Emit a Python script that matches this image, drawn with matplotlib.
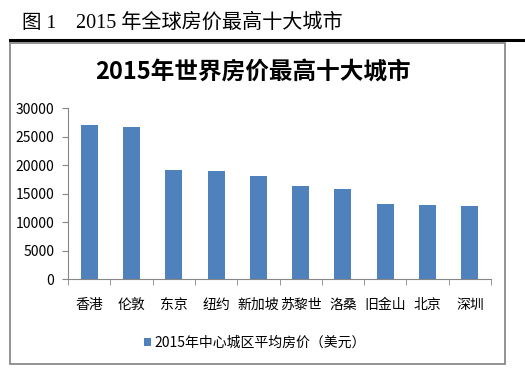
import matplotlib
matplotlib.use("Agg")
import matplotlib.pyplot as plt
from matplotlib.patches import Rectangle
from matplotlib.lines import Line2D
import numpy as np

plt.rcParams['font.family'] = ['Noto Sans CJK SC', 'DejaVu Sans']

cities = ["香港", "伦敦", "东京", "纽约", "新加坡", "苏黎世", "洛桑", "旧金山", "北京", "深圳"]
prices = [27000, 26800, 19100, 19000, 18200, 16400, 15900, 13200, 13000, 12900]
yticks = [0, 5000, 10000, 15000, 20000, 25000, 30000]
series_name = "2015年中心城区平均房价（美元）"
header_num = "图 1"
header_text = "2015 年全球房价最高十大城市"
chart_title = "2015年世界房价最高十大城市"

W, H = 525, 377
fig = plt.figure(figsize=(W / 100, H / 100), dpi=100)

def fx(x):
    return x / W

def fy(y):
    return 1 - y / H

# header
serif = ['Liberation Serif', 'Noto Sans CJK SC']
fig.text(fx(22), fy(23), header_num, family=serif, fontsize=14, va='center', ha='left')
fig.text(fx(76.5), fy(23), header_text, family=serif, fontsize=14.5, va='center', ha='left')
fig.add_artist(Line2D([fx(10), fx(525)], [fy(39.5), fy(39.5)], color='black', lw=2.2,
                      transform=fig.transFigure))

# chart border
fig.add_artist(Rectangle((fx(10), fy(364)), fx(505) - fx(10), fy(43) - fy(364),
                         transform=fig.transFigure, fill=False, edgecolor='#8a8a8a', lw=1.3))

# title
fig.text(fx(253), fy(72), chart_title, fontsize=17, fontweight='bold', ha='center', va='center')

ax = fig.add_axes([fx(68), fy(279.3), fx(491) - fx(68), fy(108.3) - fy(279.3)])
x = np.arange(len(cities))
bars = ax.bar(x, prices, width=0.4, color='#4F81BD', label=series_name)

ax.set_xlim(-0.5, len(cities) - 0.5)
ax.set_ylim(0, 30000)
ax.set_yticks(yticks)
ax.set_yticklabels([str(v) for v in yticks])
ax.set_xticks(x)
ax.set_xticklabels(cities)
ax.set_xticks(np.arange(len(cities) + 1) - 0.5, minor=True)
ax.tick_params(axis='x', which='major', length=0, pad=13.5, labelsize=10)
ax.tick_params(axis='x', which='minor', length=4, color='#868686', direction='out')
ax.tick_params(axis='y', length=4, color='#868686', direction='out', pad=6, labelsize=10)
for s in ['top', 'right']:
    ax.spines[s].set_visible(False)
for s in ['left', 'bottom']:
    ax.spines[s].set_color('#868686')

fig.legend(handles=[bars], labels=[series_name], loc='center',
           bbox_to_anchor=(fx(255), fy(343)), frameon=False, fontsize=10,
           handlelength=0.5, handleheight=0.5, handletextpad=0.3)

fig.savefig("out.png", dpi=100)
